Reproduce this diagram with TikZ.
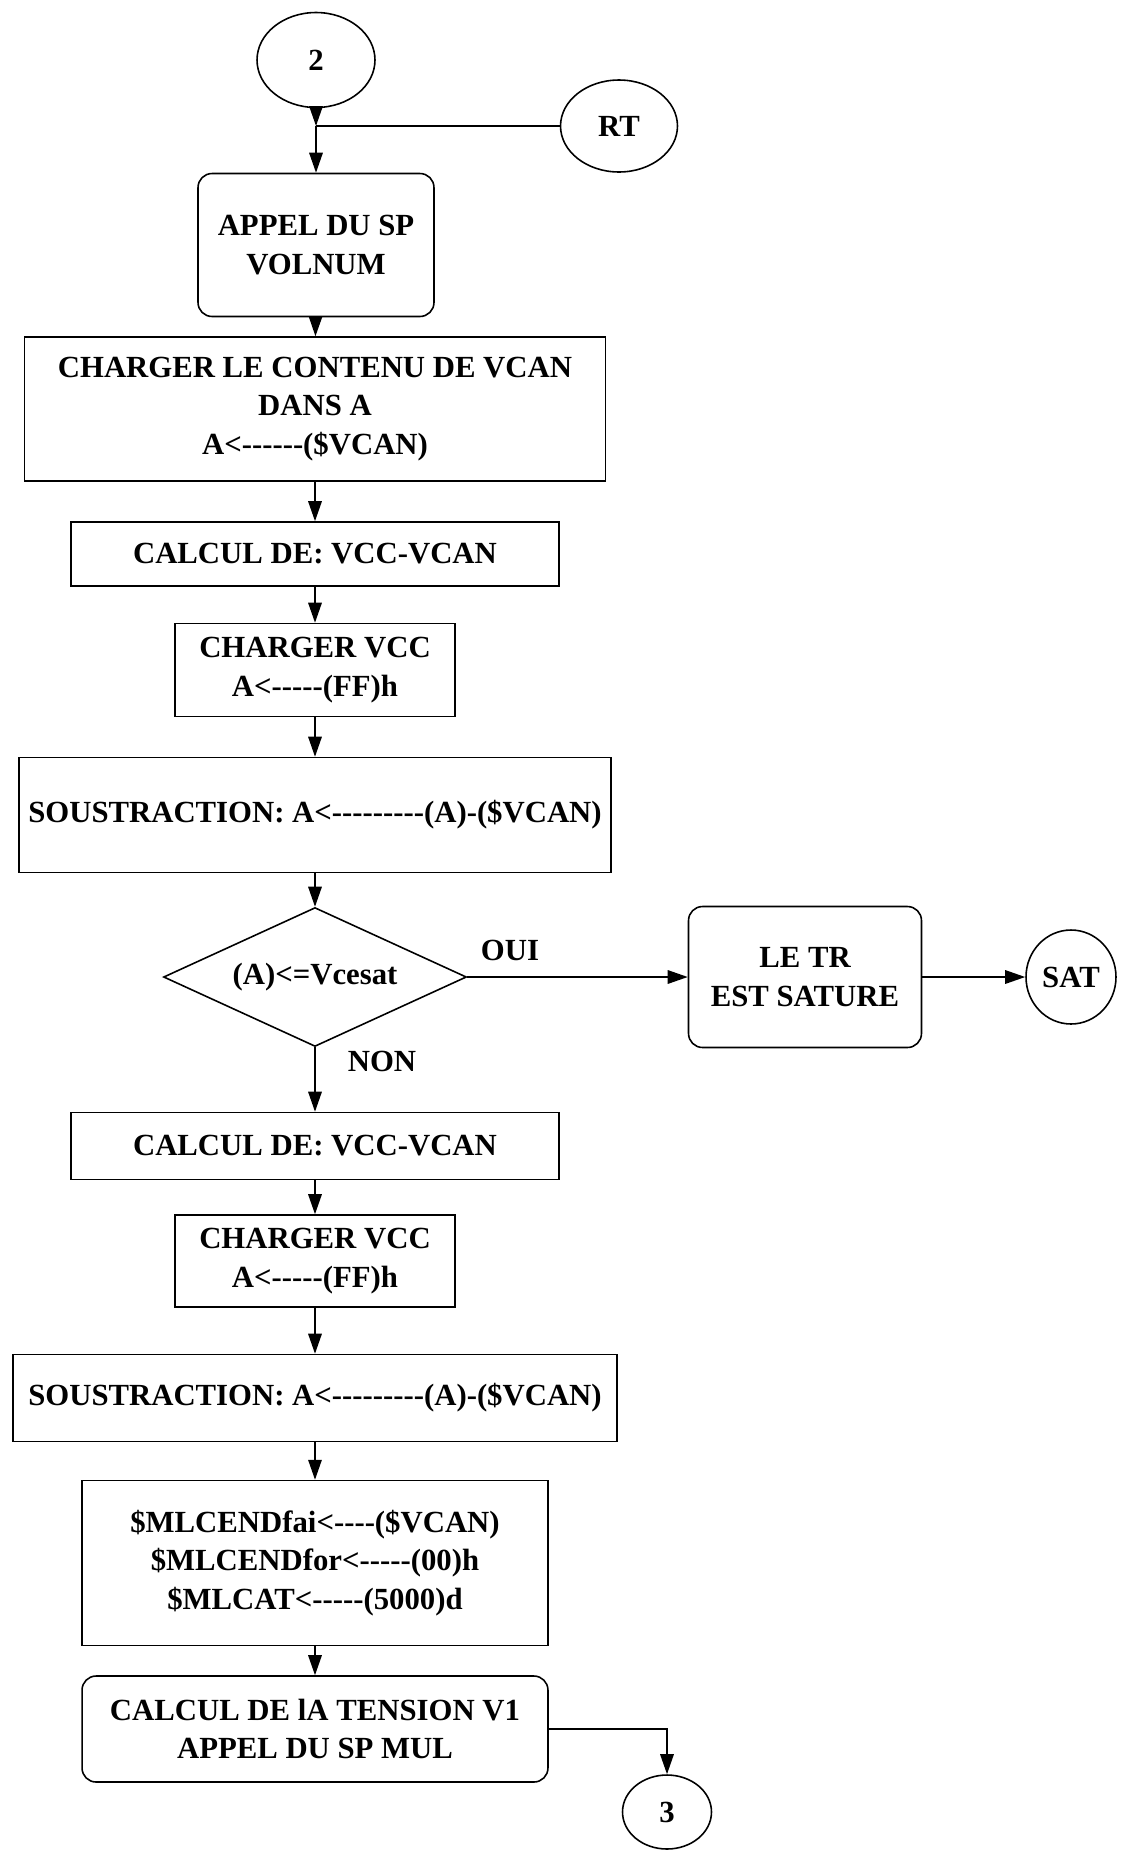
\documentclass[tikz,border=0pt]{standalone}
\usepackage{fontspec}
\setmainfont{Liberation Serif}
\usetikzlibrary{shapes.geometric,arrows.meta}

% suite de tirets sans ligature
\newcommand\tirets[1]{\foreach\k in {1,...,#1}{-}}

\begin{document}
\begin{tikzpicture}[x=0.02cm, y=-0.02cm, line width=0.9pt,
    font=\fontsize{17.5}{22}\selectfont\bfseries,
    boite/.style={draw, rectangle, align=center, inner sep=0pt},
    boiteronde/.style={boite, rounded corners=0.28cm},
    renvoi/.style={draw, ellipse, inner sep=0pt},
    decision/.style={draw, diamond, aspect=2.18, inner sep=0pt},
    fleche/.style={-{Triangle[length=0.4cm,width=0.27cm]}}]
      \useasboundingbox (0,0) rectangle (1147,1850);

      \node[renvoi, minimum width=2.36cm, minimum height=1.9cm] (deux) at (316,60) {2};
      \node[renvoi, minimum width=2.34cm, minimum height=1.84cm] (rt) at (619,126) {RT};
      \coordinate (jonction) at (316,126);

      \node[boiteronde, minimum width=4.72cm, minimum height=2.86cm] (appel) at (316,245) {APPEL DU SP\\VOLNUM};
      \node[boite, minimum width=11.62cm, minimum height=2.88cm] (charger) at (315,409) {CHARGER LE CONTENU DE VCAN\\DANS A\\A<\tirets{6}(\$VCAN)};
      \node[boite, minimum width=9.76cm, minimum height=1.28cm] (calculA) at (315,554) {CALCUL DE: VCC-VCAN};
      \node[boite, minimum width=5.6cm, minimum height=1.86cm] (vccA) at (315,670) {CHARGER VCC\\A<\tirets{5}(FF)h};
      \node[boite, minimum width=11.84cm, minimum height=2.3cm] (sousA) at (315,815) {SOUSTRACTION: A<\tirets{9}(A)-(\$VCAN)};

      \node[decision, minimum width=6.06cm, minimum height=2.78cm] (test) at (315,977) {(A)<=Vcesat};
      \node[boiteronde, minimum width=4.66cm, minimum height=2.82cm] (sature) at (805,977) {LE TR\\EST SATURE};
      \node[renvoi, minimum width=1.8cm, minimum height=1.88cm] (sat) at (1071,977) {SAT};
      \node (oui) at (510,950) {OUI};
      \node (non) at (382,1061) {NON};

      \node[boite, minimum width=9.76cm, minimum height=1.34cm] (calculB) at (315,1146) {CALCUL DE: VCC-VCAN};
      \node[boite, minimum width=5.6cm, minimum height=1.84cm] (vccB) at (315,1261) {CHARGER VCC\\A<\tirets{5}(FF)h};
      \node[boite, minimum width=12.08cm, minimum height=1.74cm] (sousB) at (315,1398) {SOUSTRACTION: A<\tirets{9}(A)-(\$VCAN)};
      \node[boite, minimum width=9.32cm, minimum height=3.3cm] (init) at (315,1563) {\$MLCENDfai<\tirets{4}(\$VCAN)\\\$MLCENDfor<\tirets{5}(00)h\\\$MLCAT<\tirets{5}(5000)d};
      \node[boiteronde, minimum width=9.32cm, minimum height=2.12cm] (mul) at (315,1729) {CALCUL DE lA TENSION V1\\APPEL DU SP MUL};
      \node[renvoi, minimum width=1.78cm, minimum height=1.48cm] (trois) at (667,1812) {3};

      \draw[fleche] (deux) -- (jonction);
      \draw[fleche] (jonction) -- (appel);
      \draw (rt) -- (jonction);
      \draw[fleche] (appel) -- (charger);
      \draw[fleche] (charger) -- (calculA);
      \draw[fleche] (calculA) -- (vccA);
      \draw[fleche] (vccA) -- (sousA);
      \draw[fleche] (sousA) -- (test);
      \draw[fleche] (test) -- (sature);
      \draw[fleche] (sature) -- (sat);
      \draw[fleche] (test) -- (calculB);
      \draw[fleche] (calculB) -- (vccB);
      \draw[fleche] (vccB) -- (sousB);
      \draw[fleche] (sousB) -- (init);
      \draw[fleche] (init) -- (mul);
      \draw[fleche] (mul) -| (trois);
\end{tikzpicture}
\end{document}
